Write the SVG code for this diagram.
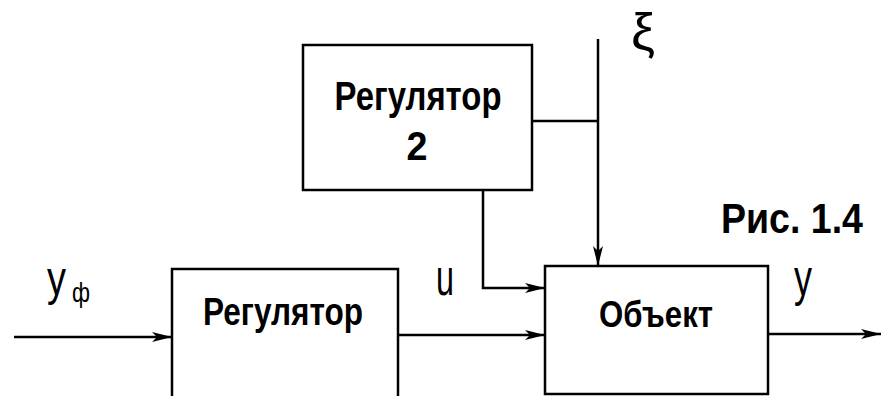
<svg xmlns="http://www.w3.org/2000/svg" width="881" height="396" viewBox="0 0 881 396">
<defs>
<marker id="arr" viewBox="0 0 20 10" refX="20" refY="5" markerWidth="20" markerHeight="10" markerUnits="userSpaceOnUse" orient="auto">
<path d="M0,0 L20,5 L0,10 L5,5 Z" fill="#000"/>
</marker>
</defs>
<style>
.box{fill:#fff;stroke:#000;stroke-width:2.5}
.ln{fill:none;stroke:#000;stroke-width:2.5}
.b{font-family:"Liberation Sans",Arial,sans-serif;font-weight:bold;fill:#000}
.r{font-family:"Liberation Sans",Arial,sans-serif;fill:#000}
</style>
<rect width="881" height="396" fill="#fff"/>
<g id="connectors">
<line class="ln" x1="14" y1="337" x2="172" y2="337" marker-end="url(#arr)"/>
<line class="ln" x1="398" y1="335" x2="545" y2="335" marker-end="url(#arr)"/>
<line class="ln" x1="768" y1="334" x2="881" y2="334" marker-end="url(#arr)"/>
<polyline class="ln" points="483,190 483,288 545,288" marker-end="url(#arr)"/>
<line class="ln" x1="532" y1="121" x2="598" y2="121"/>
<line class="ln" x1="598" y1="39" x2="598" y2="266" marker-end="url(#arr)"/>
</g>
<g id="reg2">
<rect class="box" x="303" y="45" width="229" height="145"/>
<text class="b" x="418" y="110" font-size="40" text-anchor="middle" textLength="167" lengthAdjust="spacingAndGlyphs">Регулятор</text>
<text class="b" x="417" y="160" font-size="40" text-anchor="middle" textLength="21" lengthAdjust="spacingAndGlyphs">2</text>
</g>
<g id="reg">
<rect class="box" x="172" y="269" width="226" height="140"/>
<text class="b" x="283" y="325" font-size="38" text-anchor="middle" textLength="160" lengthAdjust="spacingAndGlyphs">Регулятор</text>
</g>
<g id="obj">
<rect class="box" x="545" y="266" width="223" height="128"/>
<text class="b" x="656" y="327" font-size="36" text-anchor="middle" textLength="114" lengthAdjust="spacingAndGlyphs">Объект</text>
</g>
<g id="labels">
<text class="b" x="721" y="233" font-size="42" textLength="142" lengthAdjust="spacingAndGlyphs">Рис. 1.4</text>
<text class="r" x="436" y="295" font-size="52" textLength="18" lengthAdjust="spacingAndGlyphs">u</text>
<text class="r" x="794" y="295" font-size="52" textLength="18" lengthAdjust="spacingAndGlyphs">у</text>
<text class="r" x="47" y="295" font-size="48" textLength="19" lengthAdjust="spacingAndGlyphs">у</text>
<text class="r" x="72" y="302" font-size="28" textLength="18" lengthAdjust="spacingAndGlyphs">ф</text>
<text class="r" x="631" y="50" font-size="52" textLength="24" lengthAdjust="spacingAndGlyphs">ξ</text>
</g>
</svg>
